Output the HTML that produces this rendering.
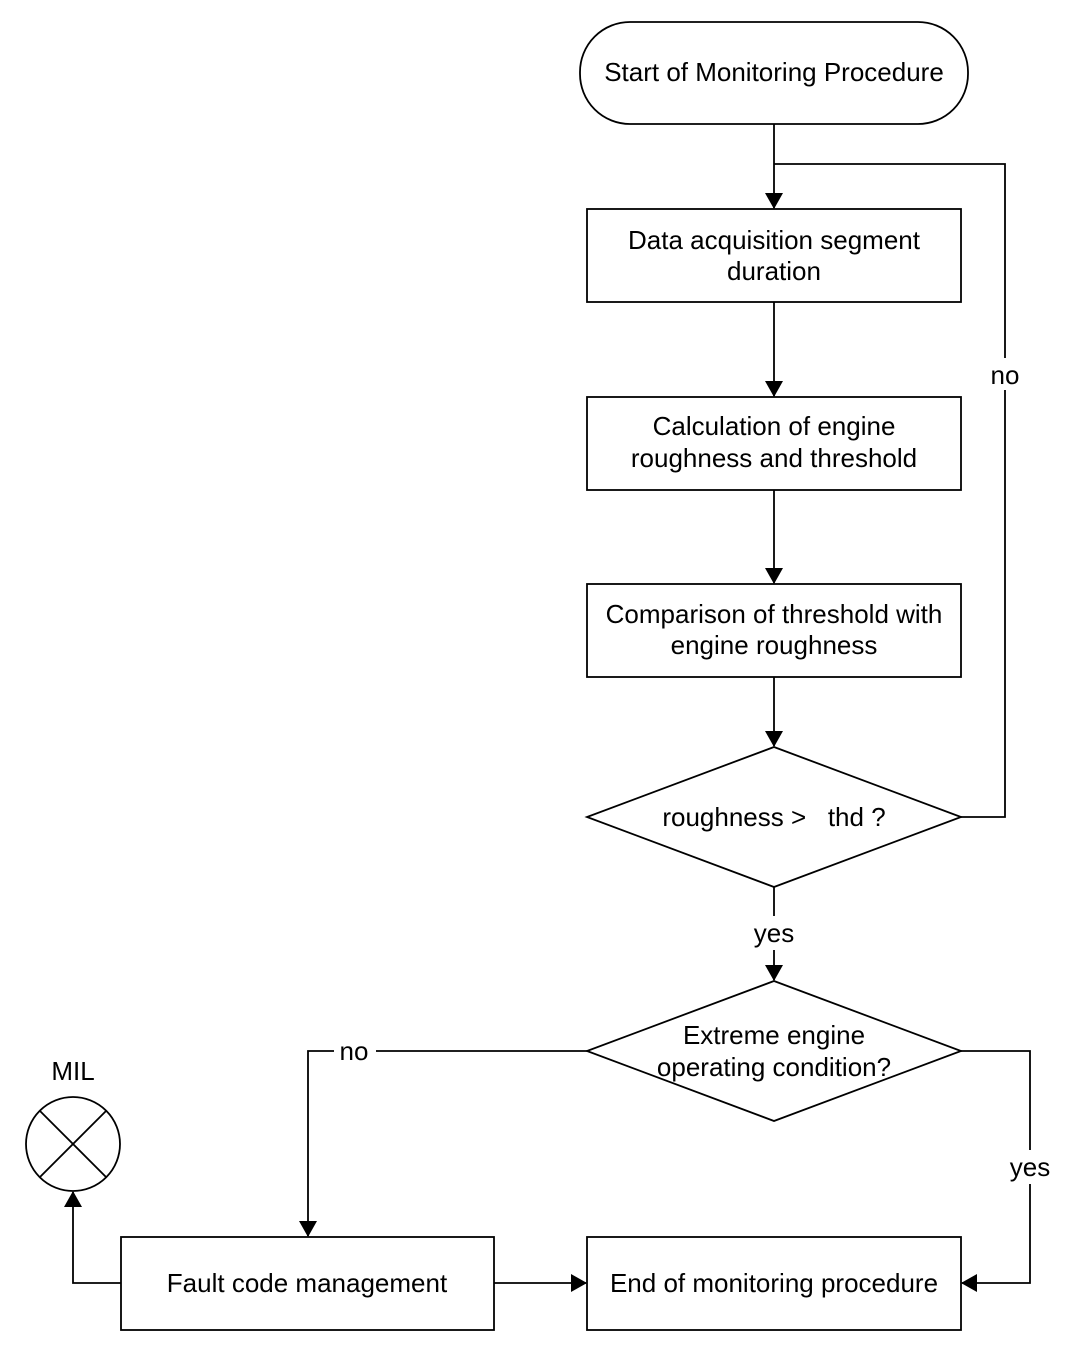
<!DOCTYPE html>
<html><head><style>body{margin:0;background:#fff}svg{display:block}</style></head><body>
<svg width="1072" height="1350" viewBox="0 0 1072 1350" xmlns="http://www.w3.org/2000/svg" font-family="Liberation Sans, Arial, sans-serif" font-size="26" text-anchor="middle">
<defs><marker id="a" markerWidth="16" markerHeight="18" refX="15" refY="9" orient="auto" markerUnits="userSpaceOnUse"><path d="M0,0 L16,9 L0,18 z" fill="#000"/></marker></defs>
<g fill="none" stroke="#000" stroke-width="1.8">
<rect x="580" y="22" width="388" height="102" rx="50" ry="50"/>
<rect x="587" y="209" width="374" height="93"/>
<rect x="587" y="397" width="374" height="93"/>
<rect x="587" y="584" width="374" height="93"/>
<polygon points="774,747 961,817 774,887 587,817"/>
<polygon points="774,981 961,1051 774,1121 587,1051"/>
<rect x="121" y="1237" width="373" height="93"/>
<rect x="587" y="1237" width="374" height="93"/>
<circle cx="73" cy="1144" r="47"/>
<line x1="40" y1="1111" x2="106" y2="1177"/><line x1="106" y1="1111" x2="40" y2="1177"/>
<line x1="774" y1="124" x2="774" y2="208" marker-end="url(#a)"/>
<line x1="774" y1="302" x2="774" y2="396" marker-end="url(#a)"/>
<line x1="774" y1="490" x2="774" y2="583" marker-end="url(#a)"/>
<line x1="774" y1="677" x2="774" y2="746" marker-end="url(#a)"/>
<polyline points="961,817 1005,817 1005,164 774,164"/>
<line x1="774" y1="887" x2="774" y2="980" marker-end="url(#a)"/>
<polyline points="587,1051 308,1051 308,1236" marker-end="url(#a)"/>
<polyline points="961,1051 1030,1051 1030,1283 962,1283" marker-end="url(#a)"/>
<line x1="494" y1="1283" x2="586" y2="1283" marker-end="url(#a)"/>
<polyline points="121,1283 73,1283 73,1192" marker-end="url(#a)"/>
</g>
<g fill="#fff"><rect x="985" y="358" width="40" height="32"/><rect x="748" y="916" width="52" height="34"/><rect x="334" y="1036" width="42" height="32"/><rect x="1004" y="1150" width="52" height="34"/></g>
<g fill="#000">
<text x="774" y="81">Start of Monitoring Procedure</text>
<text x="774" y="249">Data acquisition segment</text><text x="774" y="280">duration</text>
<text x="774" y="435">Calculation of engine</text><text x="774" y="467">roughness and threshold</text>
<text x="774" y="623">Comparison of threshold with</text><text x="774" y="654">engine roughness</text>
<text x="774" y="826" xml:space="preserve">roughness &gt;   thd ?</text>
<text x="774" y="1044">Extreme engine</text><text x="774" y="1076">operating condition?</text>
<text x="307" y="1292">Fault code management</text>
<text x="774" y="1292">End of monitoring procedure</text>
<text x="1005" y="384">no</text><text x="774" y="942">yes</text><text x="354" y="1060">no</text><text x="1030" y="1176">yes</text>
<text x="73" y="1080">MIL</text>
</g>
</svg>
</body></html>
